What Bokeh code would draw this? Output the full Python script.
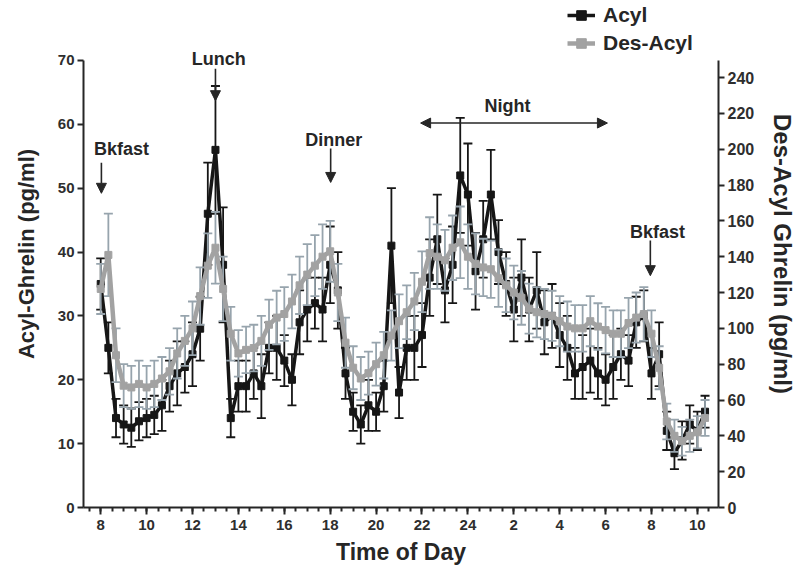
from bokeh.plotting import figure
from bokeh.models import (Range1d, LinearAxis, FixedTicker, ColumnDataSource, Label,
                          Arrow, NormalHead, Legend, LegendItem)
from bokeh.embed import file_html
from bokeh.resources import INLINE

# ---- data (sampled every 20 min from 08:00 to 10:20 next morning) ----
start_hour = 8.0
step_minutes = 20

acyl = [35, 25, 14, 13, 12.5, 13.5, 14, 14.5, 16, 19,
        21, 22, 24, 28, 46, 56, 38, 14, 19, 19,
        21, 19, 25, 25, 23, 20, 29, 31, 32, 31,
        38, 34, 21, 15, 13, 16, 15, 19, 41, 18,
        25, 25, 27, 36, 42, 34, 38, 52, 49, 37,
        42, 49, 40, 35, 31, 36, 31, 34, 29, 30,
        27, 25, 21, 22, 23, 21, 20, 22, 24, 23,
        29, 30, 21, 24, 12, 8.5, 10.5, 13, 12, 15]

acyl_sem = [4, 4, 3, 3, 3, 3, 3, 3, 4, 4,
            5, 4, 5, 5, 8, 10, 9, 3, 4, 4,
            4, 5, 4, 5, 4, 4, 5, 5, 4, 5,
            6, 6, 4, 3, 3, 4, 3, 4, 9, 4,
            5, 5, 5, 6, 7, 5, 6, 9, 8, 6,
            6, 7, 5, 5, 5, 6, 5, 6, 5, 5,
            5, 5, 4, 5, 5, 4, 4, 5, 4, 4,
            4, 4, 4, 5, 3, 2.5, 3, 3, 3, 2.5]

desacyl = [122, 141, 85, 68, 67, 69, 67, 69, 72, 76,
           86, 93, 100, 118, 135, 145, 122, 97, 86, 88,
           89, 93, 102, 106, 108, 115, 124, 130, 135, 140,
           143, 120, 92, 78, 72, 75, 80, 85, 96, 104,
           109, 115, 126, 142, 140, 138, 145, 148, 140, 136,
           134, 133, 128, 124, 120, 117, 111, 109, 108, 107,
           104, 101, 100, 100, 104, 101, 99, 97, 97, 103,
           106, 108, 97, 78, 48, 40, 37, 40, 42, 50]

desacyl_sem = [14, 23, 15, 12, 12, 13, 12, 13, 12, 13,
               14, 14, 15, 16, 18, 20, 18, 15, 13, 13,
               13, 14, 14, 15, 15, 15, 16, 17, 17, 18,
               17, 16, 14, 12, 12, 12, 12, 13, 14, 15,
               15, 16, 17, 20, 18, 17, 18, 20, 18, 17,
               16, 16, 16, 15, 15, 15, 14, 14, 14, 14,
               14, 14, 13, 13, 14, 13, 13, 13, 13, 14,
               14, 15, 13, 12, 10, 9, 8, 9, 9, 10]

hours = [start_hour + i * step_minutes / 60.0 for i in range(len(acyl))]

x_tick_values = [8, 10, 12, 14, 16, 18, 20, 22, 24, 26, 28, 30, 32, 34]
x_tick_labels = ["8", "10", "12", "14", "16", "18", "20", "22", "24", "2", "4", "6", "8", "10"]
left_ticks = [0, 10, 20, 30, 40, 50, 60, 70]
right_ticks = [0, 20, 40, 60, 80, 100, 120, 140, 160, 180, 200, 220, 240]

# meal / period annotations: (text, x, y)
events = [("Bkfast", 8.91, 56.1), ("Lunch", 13.14, 70.3), ("Dinner", 18.15, 57.6),
          ("Night", 25.73, 62.9), ("Bkfast", 32.26, 43.2)]
event_arrows = [(8.03, 54.0, 8.03, 49.2), (13.0, 68.7, 13.0, 63.7),
                (18.02, 56.2, 18.02, 50.9), (31.95, 41.8, 31.95, 36.3)]
night_arrow = (21.94, 30.08, 60.2)

BLACK = "#161616"
GRAY = "#a2a2a2"
GRAY_ERR = "#97a4ad"
AXIS = "#262626"
FONT = "Liberation Sans"

src = ColumnDataSource(dict(
    t=hours, a=acyl,
    au=[v + e for v, e in zip(acyl, acyl_sem)],
    al=[v - e for v, e in zip(acyl, acyl_sem)],
    d=desacyl,
    du=[v + e for v, e in zip(desacyl, desacyl_sem)],
    dl=[v - e for v, e in zip(desacyl, desacyl_sem)],
))

# frame spans whole top of canvas so that annotations above 70 are not clipped;
# axis lines are bounded to the real ranges.
p = figure(width=800, height=572, x_range=Range1d(7.25, 34.92), y_range=Range1d(0, 79.39),
           output_backend="svg", toolbar_location=None,
           min_border_left=83, min_border_right=82, min_border_top=0, min_border_bottom=65)
p.extra_y_ranges = {"des": Range1d(0, 283.0)}
p.xgrid.visible = False
p.ygrid.visible = False
p.outline_line_color = None
p.background_fill_color = "white"
p.border_fill_color = "white"

# Acyl (black)
p.segment(x0="t", y0="al", x1="t", y1="au", source=src, line_color=BLACK, line_width=1.8)
p.scatter(x="t", y="au", source=src, marker="dash", size=9, line_color=BLACK, line_width=1.8)
p.scatter(x="t", y="al", source=src, marker="dash", size=9, line_color=BLACK, line_width=1.8)
a_line = p.line(x="t", y="a", source=src, line_color=BLACK, line_width=3.5)
a_pts = p.scatter(x="t", y="a", source=src, marker="square", size=7, fill_color=BLACK, line_color=BLACK)

# Des-Acyl (gray) on right axis
p.segment(x0="t", y0="dl", x1="t", y1="du", source=src, line_color=GRAY_ERR, line_width=1.8, y_range_name="des")
p.scatter(x="t", y="du", source=src, marker="dash", size=9, line_color=GRAY_ERR, line_width=1.8, y_range_name="des")
p.scatter(x="t", y="dl", source=src, marker="dash", size=9, line_color=GRAY_ERR, line_width=1.8, y_range_name="des")
d_line = p.line(x="t", y="d", source=src, line_color=GRAY, line_width=4.5, y_range_name="des")
d_pts = p.scatter(x="t", y="d", source=src, marker="square", size=7, fill_color=GRAY, line_color=GRAY, y_range_name="des")

# axes styling
def style_axis(ax, label_size, tick_size):
    ax.axis_line_color = AXIS
    ax.axis_line_width = 2
    ax.major_tick_line_color = AXIS
    ax.major_tick_line_width = 2
    ax.minor_tick_line_color = AXIS
    ax.minor_tick_line_width = 2
    ax.major_tick_in = 0
    ax.minor_tick_in = 0
    ax.major_label_text_font = FONT
    ax.major_label_text_font_style = "bold"
    ax.major_label_text_font_size = tick_size
    ax.major_label_text_color = "#2e2e2e"
    ax.axis_label_text_font = FONT
    ax.axis_label_text_font_style = "bold"
    ax.axis_label_text_font_size = label_size
    ax.axis_label_text_color = "#262626"

xa = p.xaxis[0]
xa.ticker = FixedTicker(ticks=x_tick_values,
                        minor_ticks=[7.5 + 0.5 * k for k in range(55)])
xa.major_label_overrides = {v: s for v, s in zip(x_tick_values, x_tick_labels)}
xa.axis_label = "Time of Day"
style_axis(xa, "23px", "15px")
xa.major_tick_out = 7
xa.minor_tick_out = 4
xa.major_label_standoff = 5
xa.axis_label_standoff = 6

ya = p.yaxis[0]
ya.ticker = FixedTicker(ticks=left_ticks, minor_ticks=[])
ya.bounds = (0, 70)
ya.axis_label = "Acyl-Ghrelin (pg/ml)"
style_axis(ya, "22px", "15px")
ya.major_tick_out = 6
ya.minor_tick_out = 0
ya.major_label_standoff = 3
ya.axis_label_standoff = 16

ra = LinearAxis(y_range_name="des", axis_label="Des-Acyl Ghrelin (pg/ml)")
ra.ticker = FixedTicker(ticks=right_ticks, minor_ticks=[])
ra.bounds = (0, 249.5)
style_axis(ra, "24px", "16px")
ra.major_tick_out = 6
ra.minor_tick_out = 0
ra.major_label_standoff = 3
ra.axis_label_standoff = 12
p.add_layout(ra, "right")

# annotations
for txt, x, y in events:
    p.add_layout(Label(x=x, y=y, text=txt, text_align="center", text_baseline="middle",
                       text_font=FONT, text_font_style="bold", text_font_size="18px",
                       text_color="#262626"))
for x0, y0, x1, y1 in event_arrows:
    p.add_layout(Arrow(x_start=x0, y_start=y0, x_end=x1, y_end=y1, line_color=AXIS, line_width=1.6,
                       end=NormalHead(size=10, fill_color=AXIS, line_color=AXIS)))
nx0, nx1, ny = night_arrow
p.add_layout(Arrow(x_start=nx0, y_start=ny, x_end=nx1, y_end=ny, line_color=AXIS, line_width=1.6,
                   start=NormalHead(size=10, fill_color=AXIS, line_color=AXIS),
                   end=NormalHead(size=10, fill_color=AXIS, line_color=AXIS)))

legend = Legend(items=[LegendItem(label="Acyl", renderers=[a_line, a_pts]),
                       LegendItem(label="Des-Acyl", renderers=[d_line, d_pts])],
                location=(484, 452), orientation="vertical",
                padding=0, margin=0, spacing=4, glyph_width=28, glyph_height=24,
                label_height=24, label_standoff=8,
                label_text_font=FONT, label_text_font_style="bold", label_text_font_size="21px",
                label_text_color="#262626", border_line_color=None, background_fill_alpha=0)
p.add_layout(legend, "center")

open("out.html", "w").write(file_html(p, INLINE))
